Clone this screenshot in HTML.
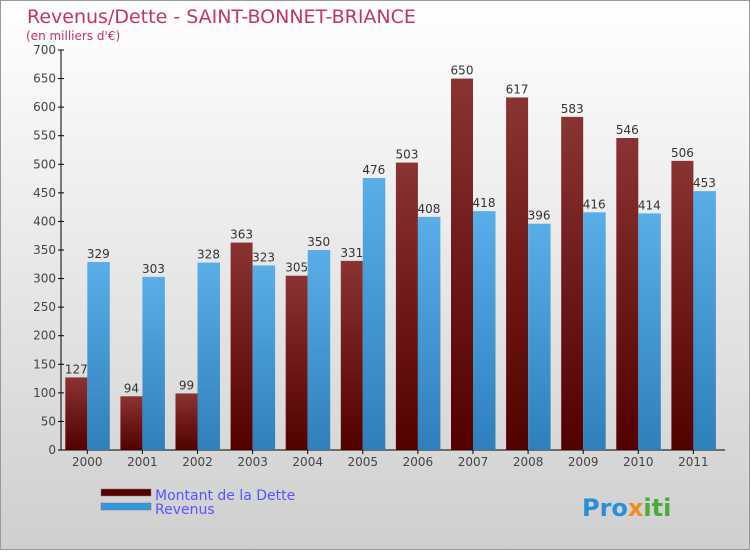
<!DOCTYPE html>
<html><head><meta charset="utf-8"><style>
body{margin:0;width:750px;height:550px;overflow:hidden;font-family:"DejaVu Sans","Liberation Sans",sans-serif}
</style></head><body>
<svg width="750" height="550" xmlns="http://www.w3.org/2000/svg" id="svg">
<defs>
<linearGradient id="bg" x1="0" y1="0" x2="0" y2="1"><stop offset="0" stop-color="#ffffff"/><stop offset="1" stop-color="#cfcfcf"/></linearGradient>
<linearGradient id="gd" x1="0" y1="0" x2="0" y2="1"><stop offset="0" stop-color="#8a3333"/><stop offset="1" stop-color="#520000"/></linearGradient>
<linearGradient id="gr" x1="0" y1="0" x2="0" y2="1"><stop offset="0" stop-color="#5aaee8"/><stop offset="1" stop-color="#2f7fba"/></linearGradient>
</defs>
<rect x="0.5" y="0.5" width="749" height="549" fill="url(#bg)" stroke="#999"/>
<text x="27" y="23" font-size="19" fill="#c2336a">Revenus/Dette - SAINT-BONNET-BRIANCE</text>
<text x="26" y="40" font-size="12" fill="#c2336a">(en milliers d'€)</text>
<g id="plot"></g>
<g>
<rect x="101" y="489" width="50" height="7" fill="#5a0000" stroke="#777" stroke-width="0.5"/>
<rect x="101" y="503" width="50" height="7" fill="#3399dd" stroke="#777" stroke-width="0.5"/>
<text x="155" y="500" font-size="14" fill="#5555ff">Montant de la Dette</text>
<text x="155" y="514" font-size="14" fill="#5555ff">Revenus</text>
</g>
<text x="582" y="516" font-size="24" font-weight="bold" fill="#2a8fd8">Pro<tspan fill="#f28c1e">x</tspan><tspan fill="#4aaa3a">iti</tspan></text>
</svg>
<script>
const categories=["2000","2001","2002","2003","2004","2005","2006","2007","2008","2009","2010","2011"];
const dette=[127,94,99,363,305,331,503,650,617,583,546,506];
const revenus=[329,303,328,323,350,476,408,418,396,416,414,453];
const yTicks=[0,50,100,150,200,250,300,350,400,450,500,550,600,650,700];
const NS="http://www.w3.org/2000/svg";
const g=document.getElementById('plot');
const y=v=>450-v*400/700;
const xc=i=>87.3+i*55.1;
function el(t,a,txt){const e=document.createElementNS(NS,t);for(const k in a)e.setAttribute(k,a[k]);if(txt!==undefined)e.textContent=txt;g.appendChild(e);return e;}
const ax=el('line',{x1:61,y1:50,x2:61,y2:450,stroke:'#000'});


const bx=el('line',{x1:61,y1:450,x2:725,y2:450,stroke:'#000'});


yTicks.forEach(v=>{
 el('line',{x1:58,y1:y(v),x2:64,y2:y(v),stroke:'#000'});
 const t=el('text',{x:56,y:y(v)+4,'font-size':12,'text-anchor':'end',fill:'#444'},v);
 
 
});
categories.forEach((c,i)=>{
 const x=xc(i);
 el('line',{x1:x,y1:450,x2:x,y2:454,stroke:'#000'});
 const t=el('text',{x:x,y:466,'font-size':12,'text-anchor':'middle',fill:'#444'},c);
 
 
 const b1=el('rect',{x:x-22,y:y(dette[i]),width:22,height:450-y(dette[i]),fill:'url(#gd)'});
 
 
 const b2=el('rect',{x:x,y:y(revenus[i]),width:22.5,height:450-y(revenus[i]),fill:'url(#gr)'});
 
 
 const l1=el('text',{x:x-11,y:y(dette[i])-4,'font-size':12,'text-anchor':'middle',fill:'#333'},dette[i]);
 
 
 const l2=el('text',{x:x+11,y:y(revenus[i])-4,'font-size':12,'text-anchor':'middle',fill:'#333'},revenus[i]);
 
 
});
</script>
</body></html>
